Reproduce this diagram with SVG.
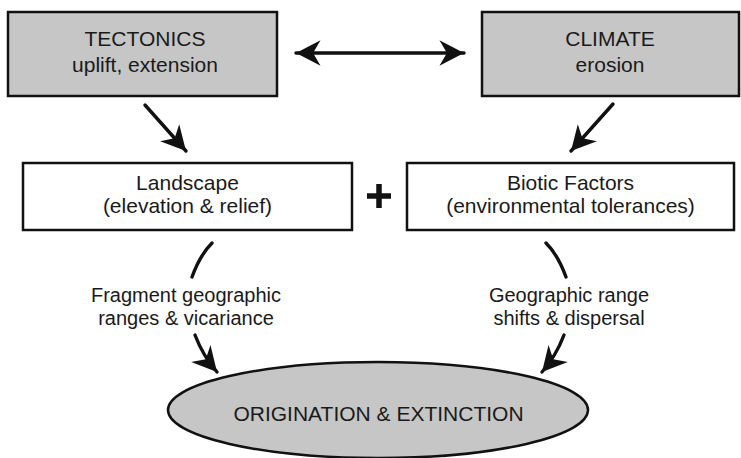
<svg xmlns="http://www.w3.org/2000/svg" width="741" height="458" viewBox="0 0 741 458">
<style>
  .box { stroke: #111; stroke-width: 2.5; }
  .gray { fill: #c6c6c6; }
  .white { fill: #fff; }
  text { font-family: "Liberation Sans", Arial, sans-serif; fill: #1a1a1a; text-anchor: middle; }
  .t21 { font-size: 21px; }
  .t20 { font-size: 20px; }
  .conn { fill: none; stroke: #111; stroke-width: 3.4; stroke-linecap: round; }
</style>
<defs>
  <marker id="ah" markerUnits="userSpaceOnUse" markerWidth="32" markerHeight="32" viewBox="-26 -14 30 28" refX="0" refY="0" orient="auto-start-reverse">
    <path d="M0,0 L-23,-12 L-16,0 L-23,12 Z" fill="#111"/>
  </marker>
</defs>
<rect width="741" height="458" fill="#fff"/>

<g id="tectonics">
  <rect class="box gray" x="8" y="12" width="269" height="84"/>
  <text class="t21" x="145" y="46">TECTONICS</text>
  <text class="t21" x="145" y="72">uplift, extension</text>
</g>
<g id="climate">
  <rect class="box gray" x="482" y="12" width="257" height="84"/>
  <text class="t21" x="610" y="46">CLIMATE</text>
  <text class="t21" x="610" y="72">erosion</text>
</g>
<g id="landscape">
  <rect class="box white" x="23" y="163" width="329" height="67"/>
  <text class="t21" x="187.5" y="190">Landscape</text>
  <text class="t21" x="187.5" y="213">(elevation &amp; relief)</text>
</g>
<g id="plus">
  <path d="M367,196 H391 M379,184 V208" stroke="#111" stroke-width="5.5" fill="none"/>
</g>
<g id="biotic">
  <rect class="box white" x="407" y="163" width="327" height="67"/>
  <text class="t21" x="570.5" y="190">Biotic Factors</text>
  <text class="t21" x="570.5" y="213">(environmental tolerances)</text>
</g>
<g id="origination">
  <ellipse cx="378" cy="410" rx="210" ry="48" fill="#c6c6c6" stroke="#111" stroke-width="2.5"/>
  <text class="t21" x="378.5" y="421">ORIGINATION &amp; EXTINCTION</text>
</g>

<g id="connectors">
  <line class="conn" x1="296" y1="53" x2="464" y2="53" marker-start="url(#ah)" marker-end="url(#ah)"/>
  <line class="conn" x1="145" y1="105" x2="186" y2="151" marker-end="url(#ah)"/>
  <line class="conn" x1="613" y1="104" x2="571" y2="151" marker-end="url(#ah)"/>
  <path class="conn" d="M212,243 Q200,255 192,277"/>
  <path class="conn" d="M195,335 Q203,356 217,372" marker-end="url(#ah)"/>
  <path class="conn" d="M546,243 Q558,255 566,277"/>
  <path class="conn" d="M564,335 Q556,356 542,372" marker-end="url(#ah)"/>
</g>
<g id="labels">
  <text class="t20" x="186" y="302">Fragment geographic</text>
  <text class="t20" x="186" y="325">ranges &amp; vicariance</text>
  <text class="t20" x="569" y="302">Geographic range</text>
  <text class="t20" x="569" y="325">shifts &amp; dispersal</text>
</g>
</svg>
